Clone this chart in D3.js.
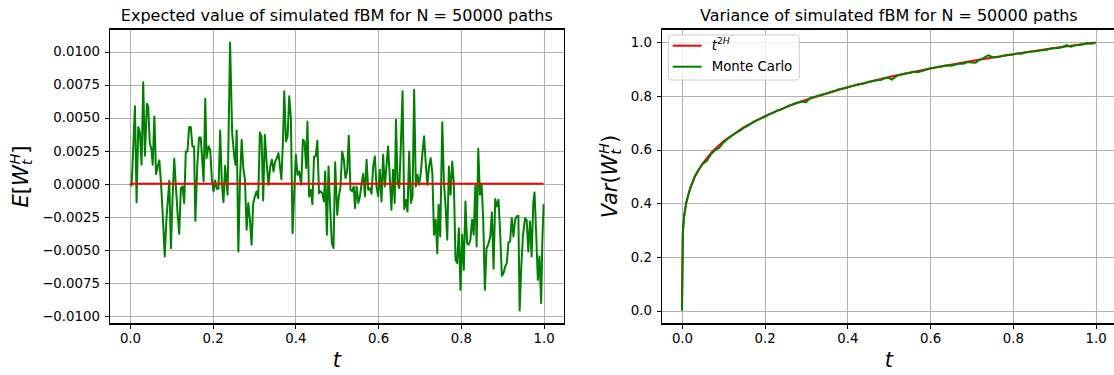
<!DOCTYPE html>
<meta charset="utf-8">

<style type="text/css">
body { margin: 0; background: #fff; }
svg { font-family: "DejaVu Sans", sans-serif; }

/* matplotlib-like grid and spines */
.grid line {
    stroke: #b0b0b0;
    stroke-width: 1.07;
}
.frame {
    fill: none;
    stroke: #000;
    stroke-width: 1.07;
    shape-rendering: crispEdges;
}
.axis line {
    stroke: #000;
    stroke-width: 1.07;
    shape-rendering: crispEdges;
}
.axis text {
    font-family: "DejaVu Sans", sans-serif;
    font-size: 13.33px;
    fill: #000;
}
.line {
    fill: none;
    stroke-width: 2;
    stroke-linejoin: round;
}
.title { font-size: 16px; text-anchor: middle; }
.label { font-size: 21px; text-anchor: middle; }
</style>
<body>
</body>

<script src="https://d3js.org/d3.v7.min.js"></script>
<script>

// ---- data ----

// time ticks shared by both panels
var xTicks = [0, 0.2, 0.4, 0.6, 0.8, 1.0];
var meanTicks = [-0.01, -0.0075, -0.005, -0.0025, 0, 0.0025, 0.005, 0.0075, 0.01];
var varTicks = [0, 0.2, 0.4, 0.6, 0.8, 1.0];

// left panel: zero reference line
var zeroSeries = [[0, 0], [1, 0]];

// left panel: Monte Carlo mean of W_t^H, [t, value]
var meanSeries = [
  [0,0],[0.004,-0.00013],[0.012,0.00586],[0.016,-0.00139],[0.020,0.00429],[0.024,0.00384],[0.028,0.00144],[0.032,0.00768],[0.036,0.00212],[0.041,0.00606],
  [0.044,0.00586],[0.048,0.00308],[0.052,0.00258],[0.055,0.00144],[0.059,0.0051],[0.063,0.00073],[0.067,0.00131],[0.071,0.00177],[0.075,0.00005],[0.079,-0.00222],
  [0.084,-0.0055],[0.088,-0.00273],[0.095,0.00023],[0.099,-0.00487],[0.103,-0.00096],[0.107,0.00189],[0.111,-0.0002],[0.115,-0.00222],[0.119,-0.00379],[0.123,-0.00033],
  [0.127,-0.0002],[0.131,-0.00146],[0.135,0.00245],[0.139,0.00245],[0.143,0.00429],[0.147,0.00429],[0.151,0.00283],[0.155,0.00283],[0.158,-0.0028],[0.163,0.00157],
  [0.167,0.00351],[0.171,0.00351],[0.173,0.00258],[0.178,0.00018],[0.182,0.00644],[0.185,0.00194],[0.190,0.00283],[0.194,0.00258],[0.198,0.0003],[0.202,-0.00058],
  [0.206,0.00025],[0.210,-0.00038],[0.214,-0.00038],[0.218,0.00404],[0.222,0.00005],[0.226,-0.00139],[0.230,0.00136],[0.236,-0.00083],[0.242,0.0107],[0.247,0.00384],
  [0.252,0.00207],[0.255,0.00144],[0.258,0.00404],[0.262,-0.00513],[0.266,0.0003],[0.270,0.00333],[0.274,0.00119],[0.278,0.0003],[0.282,-0.00348],[0.286,-0.00146],
  [0.290,-0.00273],[0.294,-0.00462],[0.298,-0.00146],[0.302,-0.00096],[0.306,-0.00058],[0.310,-0.00109],[0.314,0.00389],[0.318,0.00359],[0.322,-0.00126],[0.326,0.00371],
  [0.331,0.00131],[0.335,-0.00008],[0.339,0.00131],[0.343,0.00182],[0.347,0.00093],[0.351,0.00169],[0.355,0.00194],[0.359,0.00232],[0.363,0.00119],[0.366,0.00035],
  [0.370,0.00333],[0.373,0.007],[0.377,0.00321],[0.381,0.00359],[0.385,0.00662],[0.389,0.00497],[0.393,-0.00374],[0.397,-0.00071],[0.401,0.0022],[0.405,0.00068],
  [0.409,0.00093],[0.414,-0.00008],[0.418,0.00333],[0.422,0.00321],[0.426,0.00119],[0.429,0.00472],[0.433,-0.00096],[0.437,-0.00045],[0.441,-0.00154],[0.445,0.00207],
  [0.449,0.00207],[0.453,0.00326],[0.457,-0.00071],[0.461,-0.00058],[0.465,-0.00071],[0.469,-0.00134],[0.472,0.00093],[0.476,-0.00386],[0.480,0.00131],[0.484,-0.00184],
  [0.488,-0.0045],[0.492,-0.00487],[0.496,0.00162],[0.501,-0.00235],[0.505,-0.00096],[0.509,-0.0002],[0.513,0.00245],[0.517,0.00182],[0.521,0.00043],[0.525,0.00093],
  [0.529,0.00364],[0.533,-0.00045],[0.537,-0.00058],[0.541,-0.0002],[0.544,-0.00184],[0.548,-0.0002],[0.552,-0.00146],[0.556,-0.00096],[0.560,0.00005],[0.564,0.00076],
  [0.568,-0.00096],[0.572,0.00182],[0.576,-0.00045],[0.580,-0.00033],[0.584,-0.00076],[0.588,0.00131],[0.592,0.00207],[0.596,-0.0002],[0.600,-0.00096],[0.604,0.00106],
  [0.608,-0.00134],[0.612,0.0022],[0.616,-0.0002],[0.620,0.00131],[0.624,0.00283],[0.628,0.00056],[0.632,-0.00197],[0.636,0.00106],[0.640,-0.00146],[0.643,0.00485],
  [0.647,0.00005],[0.651,-0.00033],[0.655,0.00308],[0.659,0.007],[0.663,-0.00192],[0.667,-0.00121],[0.671,-0.0021],[0.675,0.00245],[0.679,-0.00146],[0.683,-0.00096],
  [0.687,0.00712],[0.691,-0.0002],[0.695,0.00068],[0.699,-0.00008],[0.703,0.00081],[0.707,0.00232],[0.711,0.00359],[0.715,0.00157],[0.719,-0.00008],[0.723,0.00131],
  [0.727,0.00194],[0.731,0.00081],[0.735,-0.00386],[0.739,-0.00273],[0.743,-0.00525],[0.746,-0.00159],[0.750,-0.00399],[0.755,0.00465],[0.759,0.00005],[0.763,-0.00172],
  [0.767,-0.00424],[0.771,0.00131],[0.775,-0.00083],[0.779,0.00169],[0.783,0.00005],[0.787,-0.00576],[0.791,-0.00601],[0.795,-0.00336],[0.799,-0.00803],[0.803,-0.00386],
  [0.807,-0.00652],[0.811,-0.00134],[0.815,-0.0045],[0.819,-0.00462],[0.823,-0.00424],[0.827,-0.00273],[0.831,-0.00386],[0.835,-0.00008],[0.838,-0.00475],[0.842,0.00265],
  [0.846,-0.00083],[0.850,0],[0.854,-0.00273],[0.858,-0.00803],[0.862,-0.00487],[0.866,-0.00462],[0.871,-0.00399],[0.875,-0.00215],[0.879,-0.00644],[0.883,-0.00116],
  [0.887,-0.00172],[0.891,-0.00121],[0.895,-0.00374],[0.899,-0.00697],[0.903,-0.00677],[0.907,-0.00626],[0.911,-0.00601],[0.915,-0.00444],[0.919,-0.00437],[0.923,-0.0026],
  [0.927,-0.00399],[0.931,-0.00273],[0.935,-0.00247],[0.939,-0.00242],[0.942,-0.0096],[0.946,-0.00626],[0.950,-0.00399],[0.955,-0.0026],[0.959,-0.00273],[0.963,-0.00513],
  [0.967,-0.00285],[0.971,-0.0055],[0.975,-0.00146],[0.978,-0.00066],[0.982,-0.00374],[0.986,-0.00727],[0.990,-0.0055],[0.994,-0.00904],[0.997,-0.00424],[1.000,-0.00154]
];

// right panel: theoretical variance curve t^{2H}, [t, value]
var theorySeries = [
  [0,0],[0.002,0.29],[0.005,0.35],[0.01,0.40],[0.02,0.458],[0.03,0.496],[0.05,0.549],[0.075,0.596],[0.1,0.631],[0.15,0.684],
  [0.2,0.725],[0.25,0.758],[0.3,0.786],[0.4,0.833],[0.5,0.871],[0.6,0.903],[0.7,0.931],[0.8,0.956],[0.9,0.979],[1.0,1.0]
];

// right panel: Monte Carlo sample variance, [t, value]
var mcSeries = [
  [0,0],[0.002,0.29],[0.005,0.35],[0.01,0.40],[0.015,0.43],[0.02,0.455],[0.03,0.497],[0.04,0.525],[0.05,0.547],[0.06,0.558],
  [0.07,0.583],[0.08,0.598],[0.09,0.607],[0.10,0.626],[0.11,0.64],[0.12,0.652],[0.13,0.662],[0.14,0.671],[0.15,0.682],[0.16,0.69],
  [0.17,0.701],[0.18,0.709],[0.19,0.716],[0.20,0.722],[0.21,0.731],[0.22,0.737],[0.23,0.746],[0.24,0.75],[0.25,0.757],[0.26,0.765],
  [0.27,0.771],[0.28,0.776],[0.29,0.78],[0.30,0.777],[0.31,0.793],[0.32,0.797],[0.33,0.801],[0.34,0.806],[0.35,0.81],[0.36,0.815],
  [0.37,0.82],[0.38,0.826],[0.39,0.828],[0.40,0.832],[0.41,0.837],[0.42,0.841],[0.43,0.845],[0.44,0.847],[0.45,0.852],[0.46,0.855],
  [0.47,0.859],[0.48,0.86],[0.49,0.866],[0.50,0.868],[0.507,0.861],[0.52,0.876],[0.53,0.88],[0.54,0.884],[0.55,0.886],[0.56,0.891],
  [0.57,0.889],[0.58,0.893],[0.59,0.898],[0.60,0.903],[0.61,0.906],[0.62,0.909],[0.63,0.911],[0.64,0.915],[0.65,0.913],[0.66,0.917],
  [0.67,0.921],[0.68,0.92],[0.69,0.927],[0.70,0.925],[0.71,0.924],[0.72,0.936],[0.73,0.942],[0.74,0.952],[0.75,0.946],[0.76,0.945],
  [0.77,0.947],[0.78,0.951],[0.79,0.953],[0.80,0.955],[0.81,0.959],[0.82,0.958],[0.83,0.962],[0.84,0.965],[0.85,0.966],[0.86,0.968],
  [0.87,0.971],[0.88,0.972],[0.89,0.976],[0.90,0.978],[0.91,0.979],[0.92,0.983],[0.93,0.99],[0.94,0.984],[0.95,0.989],[0.96,0.99],
  [0.97,0.993],[0.98,0.998],[0.99,0.995],[1.00,0.999]
];

var titles = ["Expected value of simulated fBM for N = 50000 paths",
              "Variance of simulated fBM for N = 50000 paths"];
var legendLabels = ["t2H", "Monte Carlo"];

// ---- layout ----
var width = 1114, height = 375;
var plotTop = 29, plotW = 455, plotH = 295;
var tick = 4.67;

var svg = d3.select("body").append("svg")
    .attr("width", width)
    .attr("height", height);

function yPad(series) {
  var ext = d3.extent(series, function(d) { return d[1]; });
  var p = (ext[1] - ext[0]) * 0.05;
  return [ext[0] - p, ext[1] + p];
}

// snap a 1px line onto a pixel centre, like matplotlib does
function snap(v, off) { return Math.round(v + off) + 0.5 - off; }

function drawPanel(left, yDomain, yTicks, yFmt, title) {
  var g = svg.append("g")
      .attr("transform", "translate(" + left + "," + plotTop + ")");

  var x = d3.scaleLinear().domain([-0.05, 1.05]).range([0, plotW]);
  var y = d3.scaleLinear().domain(yDomain).range([plotH, 0]);

  // grid lines
  var grid = g.append("g").attr("class", "grid");
  grid.selectAll(".gx").data(xTicks).enter().append("line")
      .attr("x1", function(d) { return snap(x(d), left); })
      .attr("x2", function(d) { return snap(x(d), left); })
      .attr("y1", 0).attr("y2", plotH);
  grid.selectAll(".gy").data(yTicks).enter().append("line")
      .attr("x1", 0).attr("x2", plotW)
      .attr("y1", function(d) { return snap(y(d), plotTop); })
      .attr("y2", function(d) { return snap(y(d), plotTop); });

  // axes
  var ax = g.append("g")
      .attr("class", "axis")
      .attr("transform", "translate(0," + plotH + ")")
      .call(d3.axisBottom(x).tickValues(xTicks).tickFormat(d3.format(".1f"))
            .tickSize(tick).tickPadding(tick));
  ax.select(".domain").remove();
  var ay = g.append("g")
      .attr("class", "axis")
      .call(d3.axisLeft(y).tickValues(yTicks).tickFormat(d3.format(yFmt))
            .tickSize(tick).tickPadding(tick));
  ay.select(".domain").remove();

  // title
  g.append("text")
      .attr("class", "title")
      .attr("x", plotW / 2)
      .attr("y", -8)
      .text(title);

  // x label
  g.append("text")
      .attr("class", "label")
      .attr("x", plotW / 2)
      .attr("y", 338)
      .style("font-style", "italic")
      .text("t");

  return {g: g, x: x, y: y};
}

function addLine(p, series, color) {
  var line = d3.line()
      .x(function(d) { return p.x(d[0]); })
      .y(function(d) { return p.y(d[1]); });
  p.g.append("path")
      .datum(series)
      .attr("class", "line")
      .attr("stroke", color)
      .attr("d", line);
}

function addFrame(p) {
  p.g.append("rect")
      .attr("class", "frame")
      .attr("width", plotW)
      .attr("height", plotH);
}

// ---- left panel ----
var pL = drawPanel(109.3, yPad(meanSeries), meanTicks, ".4f", titles[0]);
addLine(pL, meanSeries, "#008000");
addLine(pL, zeroSeries, "#ff0000");
addFrame(pL);

var yl = pL.g.append("text")
    .attr("class", "label")
    .attr("transform", "translate(-81," + (plotH / 2) + ") rotate(-90)");
yl.append("tspan").style("font-style", "italic").text("E");
yl.append("tspan").text("[");
yl.append("tspan").style("font-style", "italic").text("W");
yl.append("tspan").attr("font-size", "14.5px").attr("dy", 4).style("font-style", "italic").text("t");
yl.append("tspan").attr("font-size", "14.5px").attr("dx", -5).attr("dy", -12).style("font-style", "italic").text("H");
yl.append("tspan").attr("dy", 8).text("]");

// ---- right panel ----
var pR = drawPanel(661.3, yPad(theorySeries), varTicks, ".1f", titles[1]);
addLine(pR, theorySeries, "#ff0000");
addLine(pR, mcSeries, "#008000");
addFrame(pR);

var yr = pR.g.append("text")
    .attr("class", "label")
    .attr("transform", "translate(-44," + (plotH / 2) + ") rotate(-90)");
yr.append("tspan").style("font-style", "italic").text("Var");
yr.append("tspan").text("(");
yr.append("tspan").style("font-style", "italic").text("W");
yr.append("tspan").attr("font-size", "14.5px").attr("dy", 4).style("font-style", "italic").text("t");
yr.append("tspan").attr("font-size", "14.5px").attr("dx", -5).attr("dy", -12).style("font-style", "italic").text("H");
yr.append("tspan").attr("dy", 8).text(")");

// legend
var lg = pR.g.append("g").attr("transform", "translate(7,6)");
lg.append("rect")
    .attr("width", 131).attr("height", 45).attr("rx", 3)
    .attr("fill", "#fff").attr("fill-opacity", 0.8)
    .attr("stroke", "#cccccc");
var legendColors = ["#ff0000", "#008000"];
legendLabels.forEach(function(lab, i) {
  var cy = 10.7 + i * 21;
  lg.append("line")
      .attr("x1", 4.4).attr("x2", 33.4)
      .attr("y1", cy).attr("y2", cy)
      .attr("stroke", legendColors[i]).attr("stroke-width", 2);
  var t = lg.append("text")
      .attr("x", 43.4).attr("y", cy + 4.7)
      .style("font-size", "13.33px");
  if (i === 0) {
    t.append("tspan").style("font-style", "italic").text("t");
    t.append("tspan").attr("font-size", "9.3px").attr("dy", -6).text("2");
    t.append("tspan").attr("font-size", "9.3px").style("font-style", "italic").text("H");
  } else {
    t.text(lab);
  }
});

</script>
